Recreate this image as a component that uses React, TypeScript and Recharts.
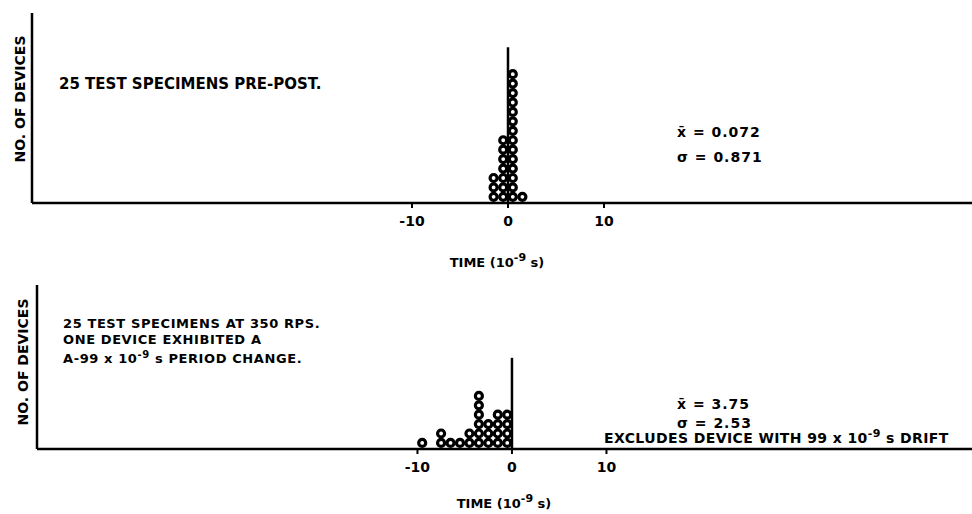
import React from 'react';
import { ScatterChart, Scatter, XAxis, YAxis, ReferenceLine } from 'recharts';

// bin centres (10^-9 s) and number of devices stacked in each bin
const preBins = [-1.5, -0.5, 0.5, 1.5];
const preCounts = [3, 7, 14, 1];

const rpsBins = [-9.5, -7.5, -6.5, -5.5, -4.5, -3.5, -2.5, -1.5, -0.5];
const rpsCounts = [1, 2, 1, 1, 2, 6, 3, 4, 4];

const xTicks = [-10, 0, 10];

const FONT = "'DejaVu Sans', sans-serif";

// one point per device, stacked upward in its bin
function stack(bins: number[], counts: number[]) {
  const pts: { x: number; y: number }[] = [];
  bins.forEach((b, i) => {
    for (let k = 0; k < counts[i]; k++) pts.push({ x: b, y: k + 0.65 });
  });
  return pts;
}

const preData = stack(preBins, preCounts);
const rpsData = stack(rpsBins, rpsCounts);

const Ring = (props: any) => (
  <circle cx={props.cx} cy={props.cy} r={3.5} fill="#fff" stroke="#000" strokeWidth={3.2} />
);

const tickStyle = { fill: '#000', fontSize: 14, fontWeight: 700, fontFamily: FONT };

function Histo({ data, xDomain, yDomain, zeroTop, yWidth, height, top, xHeight }: any) {
  return (
    <ScatterChart width={972} height={height} margin={{ top, right: 0, bottom: 0, left: 0 }}>
      <XAxis
        type="number"
        dataKey="x"
        domain={xDomain}
        ticks={xTicks}
        interval={0}
        allowDataOverflow
        height={xHeight}
        tickSize={5}
        tickMargin={8}
        tick={tickStyle}
        axisLine={{ stroke: '#000', strokeWidth: 2.5 }}
        tickLine={{ stroke: '#000', strokeWidth: 2 }}
      />
      <YAxis
        type="number"
        dataKey="y"
        domain={yDomain}
        allowDataOverflow
        width={yWidth}
        tick={false}
        tickLine={false}
        axisLine={{ stroke: '#000', strokeWidth: 2.5 }}
      />
      <ReferenceLine
        segment={[{ x: 0, y: 0 }, { x: 0, y: zeroTop }]}
        stroke="#000"
        strokeWidth={2.5}
      />
      <Scatter data={data} shape={Ring} isAnimationActive={false} />
    </ScatterChart>
  );
}

const txt = { fontFamily: FONT, fontWeight: 700, fill: '#000' } as const;

export default function App() {
  return (
    <div style={{ position: 'absolute', left: 0, top: 0, width: 972, height: 514, background: '#fff' }}>
      <div style={{ position: 'absolute', left: 0, top: 0 }}>
        <Histo data={preData} xDomain={[-49.58, 48.33]} yDomain={[0, 20.13]} zeroTop={16.5}
          yWidth={32} height={240} top={13} xHeight={37} />
      </div>
      <div style={{ position: 'absolute', left: 0, top: 270 }}>
        <Histo data={rpsData} xDomain={[-50.26, 48.68]} yDomain={[0, 17.45]} zeroTop={9.7}
          yWidth={37} height={209} top={15} xHeight={30} />
      </div>
      <svg width={972} height={514} style={{ position: 'absolute', left: 0, top: 0, pointerEvents: 'none' }}>
        <text {...txt} fontSize={14} x={25} y={99} textAnchor="middle" transform="rotate(-90 25 99)">NO. OF DEVICES</text>
        <text {...txt} fontSize={14} x={28} y={362} textAnchor="middle" transform="rotate(-90 28 362)">NO. OF DEVICES</text>

        <text {...txt} fontSize={15} x={59} y={89}>25 TEST SPECIMENS PRE-POST.</text>
        <text {...txt} fontSize={14} x={677} y={137} letterSpacing={1}>{'x\u0304 = 0.072'}</text>
        <text {...txt} fontSize={14} x={677} y={162} letterSpacing={1}>{'\u03c3 = 0.871'}</text>
        <text {...txt} fontSize={13} x={497} y={267} textAnchor="middle">
          TIME (10<tspan dy={-6} fontSize={11}>-9</tspan><tspan dy={6}> s)</tspan>
        </text>

        <text {...txt} fontSize={13} x={63} y={328} letterSpacing={0.6}>25 TEST SPECIMENS AT 350 RPS.</text>
        <text {...txt} fontSize={13} x={63} y={344} letterSpacing={0.6}>ONE DEVICE EXHIBITED A</text>
        <text {...txt} fontSize={13} x={63} y={363} letterSpacing={0.6}>
          A-99 x 10<tspan dy={-5} fontSize={10}>-9</tspan><tspan dy={5}> s PERIOD CHANGE.</tspan>
        </text>
        <text {...txt} fontSize={14} x={677} y={409} letterSpacing={1}>{'x\u0304 = 3.75'}</text>
        <text {...txt} fontSize={14} x={677} y={428} letterSpacing={1}>{'\u03c3 = 2.53'}</text>
        <text {...txt} fontSize={14} x={604} y={443} letterSpacing={0.4}>
          EXCLUDES DEVICE WITH 99 x 10<tspan dy={-6} fontSize={11}>-9</tspan><tspan dy={6}> s DRIFT</tspan>
        </text>
        <text {...txt} fontSize={13} x={504} y={508} textAnchor="middle">
          TIME (10<tspan dy={-6} fontSize={11}>-9</tspan><tspan dy={6}> s)</tspan>
        </text>
      </svg>
    </div>
  );
}
